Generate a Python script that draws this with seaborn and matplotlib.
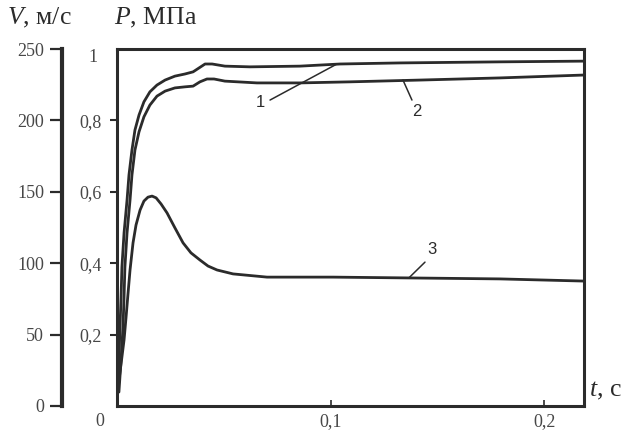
import matplotlib
matplotlib.use("Agg")
import matplotlib.pyplot as plt
import pandas as pd
import seaborn as sns

# Pressure P (MPa) versus time t (s) for three regimes
t1 = [0.0005, 0.0009, 0.0014, 0.0019, 0.0023, 0.0033, 0.0047, 0.0056, 0.0070,
      0.0084, 0.0103, 0.0126, 0.0154, 0.0187, 0.0225, 0.0271, 0.0318, 0.0356,
      0.0384, 0.0412, 0.0445, 0.0505, 0.0622, 0.0856, 0.1044, 0.1324, 0.1792,
      0.2181]
p1 = [0.045, 0.129, 0.221, 0.305, 0.389, 0.485, 0.577, 0.647, 0.717,
      0.773, 0.815, 0.852, 0.880, 0.899, 0.913, 0.924, 0.930, 0.936,
      0.947, 0.958, 0.958, 0.952, 0.950, 0.952, 0.958, 0.961, 0.964,
      0.966]

t2 = [0.0009, 0.0019, 0.0028, 0.0033, 0.0037, 0.0047, 0.0061, 0.0070, 0.0084,
      0.0103, 0.0126, 0.0154, 0.0187, 0.0225, 0.0271, 0.0318, 0.0356, 0.0388,
      0.0421, 0.0454, 0.0505, 0.0655, 0.0856, 0.1090, 0.1418, 0.1792, 0.2181]
p2 = [0.039, 0.129, 0.221, 0.305, 0.389, 0.485, 0.577, 0.647, 0.717,
      0.768, 0.810, 0.843, 0.868, 0.882, 0.891, 0.894, 0.896, 0.908,
      0.916, 0.916, 0.910, 0.905, 0.905, 0.908, 0.913, 0.919, 0.927]

t3 = [0.0005, 0.0014, 0.0023, 0.0033, 0.0042, 0.0051, 0.0061, 0.0075, 0.0089,
      0.0108, 0.0126, 0.0145, 0.0164, 0.0183, 0.0206, 0.0234, 0.0271, 0.0309,
      0.0346, 0.0388, 0.0426, 0.0468, 0.0543, 0.0702, 0.1011, 0.1324, 0.1792,
      0.2181]
p3 = [0.050, 0.095, 0.137, 0.185, 0.246, 0.311, 0.381, 0.457, 0.507,
      0.549, 0.574, 0.585, 0.588, 0.583, 0.566, 0.541, 0.499, 0.457,
      0.429, 0.409, 0.392, 0.381, 0.370, 0.361, 0.361, 0.359, 0.356,
      0.350]

p_ticks = [0.2, 0.4, 0.6, 0.8]
p_tick_labels = ["0,2", "0,4", "0,6", "0,8"]
v_ticks = [0, 50, 100, 150, 200, 250]
t_ticks = [0.1, 0.2]
t_tick_labels = ["0,1", "0,2"]

curves = pd.concat([
    pd.DataFrame({"curve": "1", "t": t1, "P": p1}),
    pd.DataFrame({"curve": "2", "t": t2, "P": p2}),
    pd.DataFrame({"curve": "3", "t": t3, "P": p3}),
])

sns.set_style("ticks")
plt.rcParams["font.family"] = ["Liberation Serif", "DejaVu Serif"]
plt.rcParams["mathtext.fontset"] = "custom"
plt.rcParams["mathtext.it"] = "Liberation Serif:italic"
plt.rcParams["mathtext.rm"] = "Liberation Serif"

INK = "#2b2b2b"
LABEL = "#474747"
W, H = 624, 430
fig = plt.figure(figsize=(W / 100, H / 100), dpi=100)
fig.patch.set_facecolor("white")


def box(x0, y0, x1, y1):
    return [x0 / W, 1 - y1 / H, (x1 - x0) / W, (y1 - y0) / H]


ax = fig.add_axes(box(117, 49, 584, 406))
axv = fig.add_axes(box(62, 49, 63, 406))

sns.lineplot(data=curves, x="t", y="P", units="curve", estimator=None,
             sort=False, color=INK, linewidth=2.0, ax=ax, legend=False,
             solid_joinstyle="round", solid_capstyle="round")

ax.set_xlim(0, 0.2185)
ax.set_ylim(0, 1)
ax.set_xlabel("")
ax.set_ylabel("")
for s in ax.spines.values():
    s.set_visible(True)
    s.set_linewidth(2.2)
    s.set_color(INK)

ax.set_yticks(p_ticks)
ax.set_yticklabels(p_tick_labels)
ax.tick_params(axis="y", direction="out", length=5, width=1.5, color=INK,
               labelsize=13, labelcolor=LABEL, pad=14)
for lbl in ax.get_yticklabels():
    lbl.set_horizontalalignment("center")
ax.set_xticks(t_ticks)
ax.set_xticklabels(t_tick_labels)
ax.tick_params(axis="x", direction="in", length=4, width=1.2, color=INK,
               labelsize=13, labelcolor=LABEL, pad=5)

# top label of the pressure scale, centred over the other labels
ax.text(-24 / 467 * 0.2185, 1.0, "1", ha="center", va="top", fontsize=13,
        color=LABEL, transform=ax.transData, clip_on=False)

# velocity scale on its own spine
axv.set_facecolor("none")
axv.set_ylim(0, 250)
axv.set_xlim(0, 1)
axv.set_xticks([])
for name, s in axv.spines.items():
    s.set_visible(name == "left")
axv.spines["left"].set_linewidth(3)
axv.spines["left"].set_color(INK)
axv.set_yticks(v_ticks)
axv.set_yticklabels([str(v) for v in v_ticks])
axv.tick_params(axis="y", direction="out", length=9, width=1.6, color=INK,
                labelsize=13, labelcolor=LABEL, pad=4)

# origin label of the time axis
fig.text(100 / W, 1 - 421 / H, "0", ha="center", va="center", fontsize=13,
         color=LABEL)

# axis titles
fig.text(7 / W, 1 - 18 / H, "$V$, м/с", ha="left", va="center",
         fontsize=18.5, color=INK)
fig.text(114 / W, 1 - 18 / H, "$P$, МПа", ha="left", va="center",
         fontsize=18.5, color=INK)
fig.text(589 / W, 1 - 391 / H, "$t$, с", ha="left", va="center",
         fontsize=18.5, color=INK)

# curve numbers with leader lines
leaders = [
    ("1", (0.0669, 0.849), (0.0716, 0.857), (0.1029, 0.958)),
    ("2", (0.1404, 0.824), (0.1380, 0.857), (0.1338, 0.913)),
    ("3", (0.1474, 0.437), (0.1441, 0.403), (0.1366, 0.359)),
]
for text, (tx, ty), start, end in leaders:
    ax.plot([start[0], end[0]], [start[1], end[1]], color=INK, linewidth=1.1)
    ax.text(tx, ty, text, ha="center", va="center", fontsize=12, color=INK,
            family=["Liberation Sans", "DejaVu Sans"])

fig.savefig("out.png", dpi=100, facecolor="white")
